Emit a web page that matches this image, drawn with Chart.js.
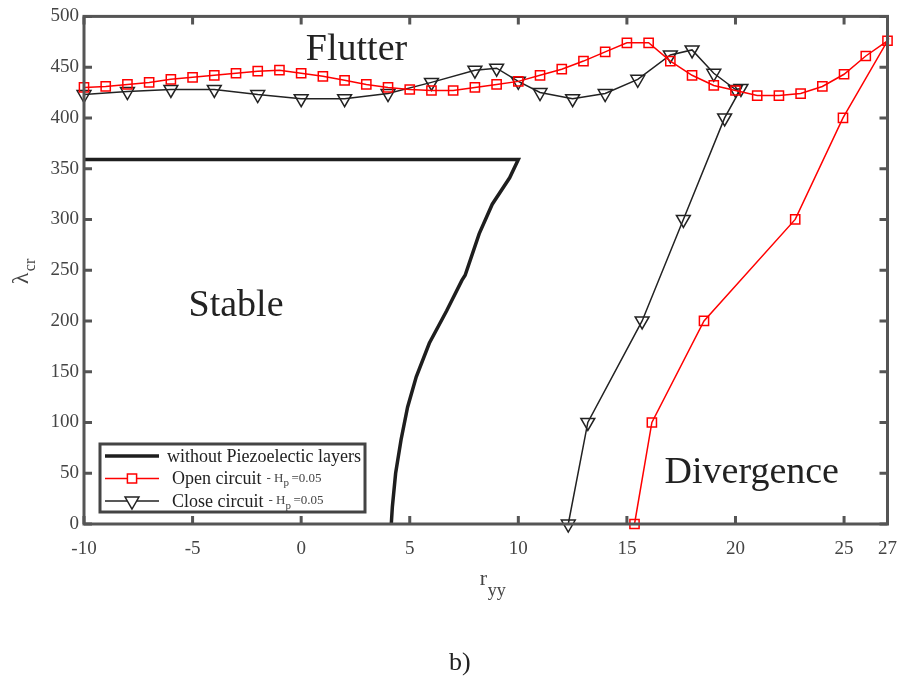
<!DOCTYPE html>
<html>
<head>
<meta charset="utf-8">
<script src="https://cdn.jsdelivr.net/npm/chart.js@4.4.1/dist/chart.umd.min.js"></script>
<style>
  html, body { margin: 0; padding: 0; background: #fff; }
  canvas { display: block; }
</style>
</head>
<body>
<canvas id="critChart" width="911" height="684" style="width:911px;height:684px"></canvas>
<script>
// tick labels
const xTickValues = [-10, -5, 0, 5, 10, 15, 20, 25, 27];
const yTickValues = [0, 50, 100, 150, 200, 250, 300, 350, 400, 450, 500];

// without piezoelectric layers (thick black boundary)
const noPiezoX = [-10, 10, 9.6, 8.8, 8.2, 7.55, 7.4, 6.7, 5.9, 5.3, 4.9, 4.6, 4.35, 4.2, 4.15];
const noPiezoY = [359, 359, 341, 315, 286, 245, 240, 210, 178, 145, 115, 83, 50, 17, 0];

// open circuit: flutter branch then divergence branch
const openFlutterX = [-10, -9, -8, -7, -6, -5, -4, -3, -2, -1, 0, 1, 2, 3, 4, 5, 6, 7, 8, 9,
                      10, 11, 12, 13, 14, 15, 16, 17, 18, 19, 20, 21, 22, 23, 24, 25, 26, 27];
const openFlutterY = [430, 431, 433, 435, 438, 440, 442, 444, 446, 447, 444, 441, 437, 433, 430, 428, 427, 427, 430, 433,
                      436, 442, 448, 456, 465, 474, 474, 456, 442, 432, 427, 422, 422, 424, 431, 443, 461, 476];
const openDivX = [24.95, 22.75, 18.55, 16.15, 15.35];
const openDivY = [400, 300, 200, 100, 0];

// close circuit: flutter branch then divergence branch
const closeFlutterX = [-10, -8, -6, -4, -2, 0, 2, 4, 6, 8, 9, 10, 11, 12.5, 14, 15.5, 17, 18, 19, 20];
const closeFlutterY = [423, 426, 428, 428, 423, 419, 419, 424, 435, 447, 449, 436, 425, 419, 424, 438, 462, 467, 444, 428];
const closeDivX = [20.25, 19.5, 17.6, 15.7, 13.2, 12.3];
const closeDivY = [429, 400, 300, 200, 100, 0];

// region names placed in data coordinates
const regionNames = ["Flutter", "Stable", "Divergence"];
const regionX = [2.55, -3.0, 20.75];
const regionY = [467, 215, 50];

const toPoints = (xs, ys) => xs.map((x, i) => ({x: x, y: ys[i]}));

const serif = "'Liberation Serif', 'DejaVu Serif', serif";
const axisColor = "#555";
const textColor = "#444";

const frame = {
    id: "frame",
    afterDraw(chart) {
        const ctx = chart.ctx;
        const area = chart.chartArea;
        const sx = chart.scales.x;
        const sy = chart.scales.y;
        ctx.save();

        // inward ticks on all four sides
        ctx.strokeStyle = axisColor;
        ctx.lineWidth = 3;
        ctx.beginPath();
        xTickValues.forEach(v => {
            const px = sx.getPixelForValue(v);
            ctx.moveTo(px, area.bottom); ctx.lineTo(px, area.bottom - 8);
            ctx.moveTo(px, area.top); ctx.lineTo(px, area.top + 8);
        });
        yTickValues.forEach(v => {
            const py = sy.getPixelForValue(v);
            ctx.moveTo(area.left, py); ctx.lineTo(area.left + 8, py);
            ctx.moveTo(area.right, py); ctx.lineTo(area.right - 8, py);
        });
        ctx.stroke();
        ctx.strokeRect(area.left, area.top, area.right - area.left, area.bottom - area.top);

        // region names
        ctx.fillStyle = "#222";
        ctx.font = "38px " + serif;
        ctx.textAlign = "center";
        ctx.textBaseline = "middle";
        regionNames.forEach((name, i) => {
            ctx.fillText(name, sx.getPixelForValue(regionX[i]), sy.getPixelForValue(regionY[i]));
        });

        // axis titles with subscripts
        ctx.fillStyle = textColor;
        ctx.textAlign = "left";
        ctx.textBaseline = "alphabetic";
        const cx = (area.left + area.right) / 2;
        ctx.font = "22px " + serif;
        ctx.fillText("r", cx - 6, 585);
        ctx.font = "18px " + serif;
        ctx.fillText("yy", cx + 2, 596);

        ctx.save();
        ctx.translate(28, (area.top + area.bottom) / 2 + 14);
        ctx.rotate(-Math.PI / 2);
        ctx.font = "24px " + serif;
        ctx.fillText("\u03bb", 0, 0);
        ctx.font = "16px " + serif;
        ctx.fillText("cr", 13, 7);
        ctx.restore();

        ctx.font = "26px " + serif;
        ctx.textAlign = "center";
        ctx.fillStyle = "#222";
        ctx.fillText("b)", cx - 26, 670);

        // legend box
        const lx = area.left + 16, ly = area.bottom - 80, lw = 265, lh = 68;
        ctx.fillStyle = "#fff";
        ctx.fillRect(lx, ly, lw, lh);
        ctx.strokeStyle = "#444";
        ctx.lineWidth = 3;
        ctx.strokeRect(lx, ly, lw, lh);

        const rows = [
            {ds: chart.data.datasets[0], tail: false},
            {ds: chart.data.datasets[1], tail: true},
            {ds: chart.data.datasets[2], tail: true}
        ];
        rows.forEach((r, i) => {
            const ry = ly + 12 + i * 22.5;
            const ds = r.ds;
            ctx.strokeStyle = ds.borderColor;
            ctx.lineWidth = ds.borderWidth;
            ctx.beginPath();
            ctx.moveTo(lx + 5, ry);
            ctx.lineTo(lx + 59, ry);
            ctx.stroke();
            if (ds.pointRadius > 0) {
                ctx.fillStyle = "#fff";
                ctx.strokeStyle = ds.pointBorderColor;
                ctx.lineWidth = ds.pointBorderWidth;
                Chart.helpers.drawPoint(ctx, {
                    pointStyle: ds.pointStyle,
                    rotation: ds.pointRotation,
                    radius: ds.pointRadius,
                    borderWidth: ds.pointBorderWidth
                }, lx + 32, ry);
            }
            ctx.fillStyle = "#222";
            ctx.textAlign = "left";
            ctx.textBaseline = "middle";
            ctx.font = "18px " + serif;
            const tx = i === 0 ? lx + 67 : lx + 72;
            ctx.fillText(ds.label, tx, ry + 1);
            if (r.tail) {
                const w = ctx.measureText(ds.label).width;
                ctx.fillStyle = textColor;
                ctx.font = "13px " + serif;
                ctx.fillText("- H", tx + w + 5, ry);
                const w2 = ctx.measureText("- H").width;
                ctx.font = "11px " + serif;
                ctx.fillText("p", tx + w + 5 + w2, ry + 5);
                ctx.font = "13px " + serif;
                ctx.fillText("=0.05", tx + w + 5 + w2 + 8, ry);
            }
        });

        ctx.restore();
    }
};

const ctx = document.getElementById("critChart").getContext("2d");

new Chart(ctx, {
    type: "scatter",
    data: {
        datasets: [{
            label: "without Piezoelectic layers",
            data: toPoints(noPiezoX, noPiezoY),
            showLine: true,
            borderColor: "#1e1e1e",
            borderWidth: 3.5,
            pointRadius: 0,
            clip: false,
        }, {
            label: "Open circuit",
            data: toPoints(openFlutterX.concat(openDivX), openFlutterY.concat(openDivY)),
            showLine: true,
            borderColor: "#ff0000",
            borderWidth: 1.5,
            pointStyle: "rect",
            pointRadius: 6.5,
            pointRotation: 0,
            pointBorderWidth: 1.5,
            pointBorderColor: "#ff0000",
            pointBackgroundColor: "rgba(0,0,0,0)",
            clip: false,
        }, {
            label: "Close circuit",
            data: toPoints(closeFlutterX.concat(closeDivX), closeFlutterY.concat(closeDivY)),
            showLine: true,
            borderColor: "#222",
            borderWidth: 1.5,
            pointStyle: "triangle",
            pointRotation: 180,
            pointRadius: 8,
            pointBorderWidth: 1.5,
            pointBorderColor: "#222",
            pointBackgroundColor: "rgba(0,0,0,0)",
            clip: false,
        }],
    },
    options: {
        responsive: false,
        animation: false,
        layout: {padding: {left: 0, top: 15, right: 22, bottom: 0}},
        plugins: {
            legend: {display: false},
            tooltip: {enabled: false},
        },
        scales: {
            x: {
                type: "linear",
                min: -10,
                max: 27,
                afterBuildTicks: scale => {
                    scale.ticks = xTickValues.map(v => ({value: v}));
                },
                afterFit: scale => { scale.height = 160; },
                grid: {display: false, drawTicks: false},
                border: {display: false},
                ticks: {
                    autoSkip: false,
                    maxRotation: 0,
                    padding: 14,
                    color: textColor,
                    font: {family: serif, size: 19},
                },
            },
            y: {
                type: "linear",
                min: 0,
                max: 500,
                afterBuildTicks: scale => {
                    scale.ticks = yTickValues.map(v => ({value: v}));
                },
                afterFit: scale => { scale.width = 84; },
                grid: {display: false, drawTicks: false},
                border: {display: false},
                ticks: {
                    padding: 5,
                    color: textColor,
                    font: {family: serif, size: 19},
                },
            },
        },
    },
    plugins: [frame],
});
</script>
</body>
</html>
